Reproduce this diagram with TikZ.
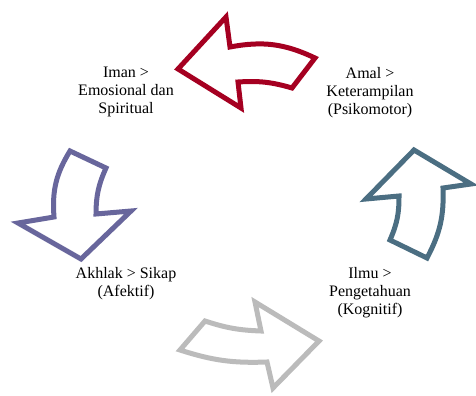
\documentclass[tikz,border=0pt]{standalone}
\usepackage{fontspec}
\setmainfont{Liberation Serif}
\usepackage[svgnames, dvipsnames]{xcolor}
\usetikzlibrary{calc, arrows.meta}

\definecolor{imanred}{HTML}{A50021}
\definecolor{akhlakpurple}{HTML}{68669C}
\definecolor{amalblue}{HTML}{4B6E82}
\definecolor{ilmugray}{HTML}{BBBBBB}

\tikzset{
  cyclearrow/.style={draw=#1, fill=white, line width=3.75pt, line join=miter},
  stage/.style={align=center, font=\fontsize{12}{13.6}\selectfont, inner sep=0pt}
}

\begin{document}
\begin{tikzpicture}[x=0.75pt, y=-0.75pt]
\useasboundingbox (0,0) rectangle (476,396);
% text of the four stages
\node[stage] (iman) at (126,92) {Iman >\\Emosional dan\\Spiritual};
\node[stage] (amal) at (370,92.5) {Amal >\\Keterampilan\\(Psikomotor)};
\node[stage] (akhlak) at (126,284) {Akhlak > Sikap\\(Afektif)};
\node[stage] (ilmu) at (370,293) {Ilmu >\\Pengetahuan\\(Kognitif)};
% top arrow, amal -> iman
\draw[cyclearrow=imanred] (178,69) -- (226,17) -- (230,47) to[bend left=18] (315,58)
  -- (292,88) to[bend right=10] (238,82) -- (241,108) -- cycle;
% left arrow, iman -> akhlak
\draw[cyclearrow=akhlakpurple] (70,151) -- (106,168) to[bend right=12] (96,214)
  -- (131,211) -- (81,259) -- (18,223) -- (54,217) to[bend left=18] cycle;
% bottom arrow, akhlak -> ilmu
\draw[cyclearrow=ilmugray] (205,321) to[bend right=8] (261,331) -- (255,302)
  -- (319,341) -- (273,388) -- (267,362) to[bend left=10] (180,350) -- cycle;
% right arrow, ilmu -> amal
\draw[cyclearrow=amalblue] (414,150) -- (366,199) -- (399,196) to[bend left=12] (390,240)
  -- (427,258) to[bend right=15] (443,188) -- (471,184) -- cycle;
\end{tikzpicture}
\end{document}
